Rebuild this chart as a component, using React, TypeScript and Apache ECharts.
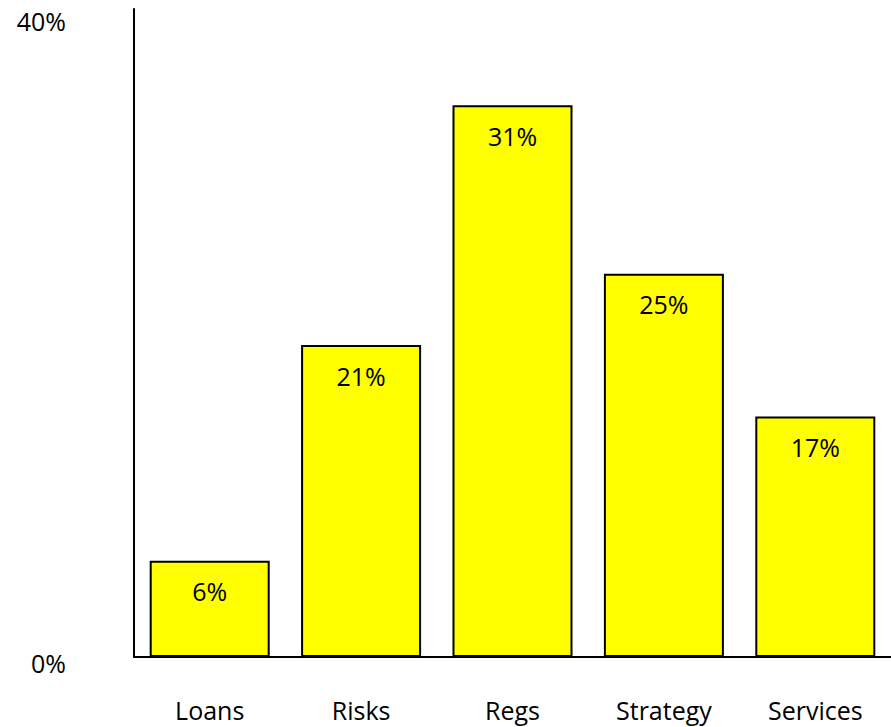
import React, { useEffect, useRef } from "react";
import * as echarts from "echarts";

const categories = ["Loans", "Risks", "Regs", "Strategy", "Services"];
const barValues = [6.0, 19.45, 34.4, 23.9, 15.0];
const barLabels = ["6%", "21%", "31%", "25%", "17%"];
const yTicks = [0, 40];

const FONT = "'Open Sans', 'Noto Sans', sans-serif";

export default function App() {
  const ref = useRef<HTMLDivElement>(null);
  useEffect(() => {
    if (!ref.current) return;
    const chart = echarts.init(ref.current, null, { renderer: "svg" });
    chart.setOption({
      animation: false,
      backgroundColor: "#ffffff",
      textStyle: { fontFamily: FONT },
      grid: { left: 134, right: 0, top: 9, bottom: 70, containLabel: false },
      xAxis: {
        type: "category",
        data: categories,
        axisLine: { show: true, lineStyle: { color: "#000", width: 2 } },
        axisTick: { show: false },
        axisLabel: { color: "#000", fontSize: 25, fontFamily: FONT, margin: 40 },
      },
      yAxis: {
        type: "value",
        min: 0,
        max: 40.4,
        splitLine: { show: false },
        axisLine: { show: true, lineStyle: { color: "#000", width: 2 } },
        axisTick: { show: false },
        axisLabel: {
          customValues: yTicks,
          margin: 68,
          formatter: (v: number) => `{a|${v}%}`,
          rich: {
            a: {
              color: "#000",
              fontSize: 25,
              fontFamily: FONT,
              padding: [12, 0, 0, 0],
            },
          },
        },
      },
      series: [
        {
          type: "bar",
          data: barValues,
          barWidth: 120,
          itemStyle: { color: "#FFFF00", borderColor: "#000", borderWidth: 2 },
          label: {
            show: true,
            position: "insideTop",
            distance: 18,
            color: "#000",
            fontSize: 25,
            fontFamily: FONT,
            formatter: (p: any) => barLabels[p.dataIndex],
          },
        },
      ],
    });
    return () => chart.dispose();
  }, []);
  return <div ref={ref} style={{ width: 891, height: 727, position: "absolute", left: 0, top: 0 }} />;
}
